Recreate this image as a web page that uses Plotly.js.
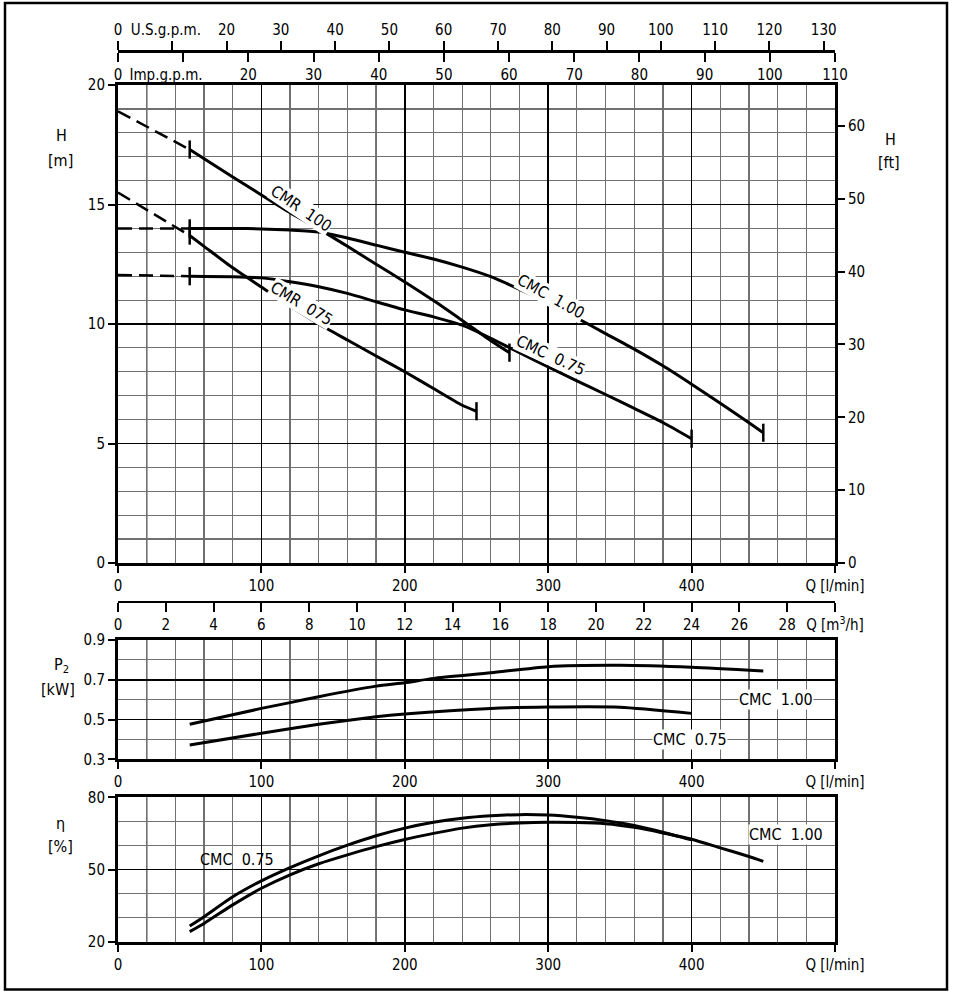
<!DOCTYPE html>
<html>
<head>
<meta charset="utf-8">
<script src="https://cdn.plot.ly/plotly-3.0.1.min.js"></script>
<style>
  html, body { margin: 0; padding: 0; background: #fff; }
  #chart { width: 958px; height: 1000px; }
</style>
</head>
<body>
<div id="chart"></div>
<script>
/** @type {typeof import("plotly.js-dist-min")} */
const Plotly = window.Plotly;

const FONT = "'Liberation Sans Narrow', 'DejaVu Sans Condensed', 'Liberation Sans', sans-serif";

// Q-H curves [l/min, m]; first point is the shut-off head, drawn dashed up to 50 l/min
const cmr100Q = [0, 50, 80, 100, 120, 140, 160, 180, 200, 220, 240, 260, 273];
const cmr100H = [18.9, 17.3, 16.15, 15.4, 14.66, 13.98, 13.25, 12.5, 11.76, 10.98, 10.15, 9.3, 8.8];
const cmr075Q = [0, 50, 60, 80, 100, 120, 140, 160, 180, 200, 220, 240, 250];
const cmr075H = [15.5, 13.7, 13.25, 12.35, 11.55, 10.75, 10.0, 9.33, 8.66, 8.0, 7.3, 6.6, 6.35];
const cmc100Q = [0, 50, 80, 100, 120, 140, 160, 180, 200, 220, 240, 260, 280, 300, 320, 340, 360, 380, 400, 420, 440, 450];
const cmc100H = [14.0, 14.0, 14.0, 13.98, 13.93, 13.85, 13.6, 13.3, 13.0, 12.72, 12.38, 11.98, 11.45, 10.88, 10.25, 9.6, 8.95, 8.25, 7.48, 6.68, 5.87, 5.45];
const cmc075Q = [0, 50, 80, 100, 120, 140, 160, 180, 200, 220, 240, 260, 280, 300, 320, 340, 360, 380, 400];
const cmc075H = [12.05, 12.0, 11.98, 11.93, 11.77, 11.56, 11.28, 10.93, 10.59, 10.3, 9.95, 9.4, 8.8, 8.2, 7.62, 7.05, 6.47, 5.88, 5.2];

// shaft power P2 [kW]
const p2Q100 = [50, 100, 120, 140, 180, 200, 220, 260, 300, 350, 400, 450];
const p2Kw100 = [0.476, 0.556, 0.585, 0.615, 0.668, 0.685, 0.707, 0.735, 0.766, 0.773, 0.763, 0.744];
const p2Q075 = [50, 100, 140, 180, 200, 260, 300, 350, 400];
const p2Kw075 = [0.372, 0.431, 0.476, 0.514, 0.528, 0.556, 0.563, 0.562, 0.531];

// efficiency [%]
const etaQ075 = [50, 60, 80, 100, 120, 140, 160, 180, 200, 220, 240, 260, 280, 300, 320, 340, 360, 380, 400];
const eta075 = [26.5, 30.4, 38.7, 45.3, 50.8, 55.7, 60.1, 64.0, 67.2, 69.6, 71.3, 72.3, 72.8, 72.6, 71.7, 70.3, 68.3, 65.5, 62.3];
const etaQ100 = [50, 60, 80, 100, 120, 140, 160, 180, 200, 220, 240, 260, 280, 300, 320, 340, 360, 380, 400, 420, 440, 450];
const eta100 = [24.2, 27.6, 35.3, 42.2, 47.8, 52.4, 56.1, 59.5, 62.5, 65.0, 67.2, 68.6, 69.3, 69.6, 69.5, 69.0, 67.5, 65.2, 62.6, 59.0, 55.4, 53.4];

// axes
const qMax = 500;
const USGPM = 0.264172, M3H = 0.06, FT = 3.28084;
const qTicks = [0, 100, 200, 300, 400, 500];
const qTickText = ["0", "100", "200", "300", "400", "Q [l/min]"];
const usTicks = [0, 10, 20, 30, 40, 50, 60, 70, 80, 90, 100, 110, 120, 130];
const usTickText = ["0", "U.S.g.p.m.\u00a0\u00a0\u00a0", "20", "30", "40", "50", "60", "70", "80", "90", "100", "110", "120", "130"];
const impTicks = [0, 10, 20, 30, 40, 50, 60, 70, 80, 90, 100, 110];
const impTickText = ["0", "Imp.g.p.m.\u00a0\u00a0\u00a0\u00a0\u00a0\u00a0\u00a0\u00a0", "20", "30", "40", "50", "60", "70", "80", "90", "100", "110"];
const m3hTicks = [0, 2, 4, 6, 8, 10, 12, 14, 16, 18, 20, 22, 24, 26, 28, 30];
const m3hTickText = ["0", "2", "4", "6", "8", "10", "12", "14", "16", "18", "20", "22", "24", "26", "28", "Q [m<sup>3</sup>/h]"];
const hTicks = [0, 5, 10, 15, 20];
const ftTicks = [0, 10, 20, 30, 40, 50, 60];
const p2Ticks = [0.3, 0.5, 0.7, 0.9];
const etaTicks = [20, 50, 80];
const darkGridQ = [20, 180];

const xDom = [118 / 958, 835 / 958];
const tickFont = { family: FONT, size: 15, color: "#000" };
const curve = { color: "#000", width: 3 };
const endMark = { symbol: "line-ns", size: 13, line: { color: "#000", width: 2.5 } };

function qAxis(anchor) {
    return {
        domain: xDom, range: [0, qMax], anchor: anchor,
        tickmode: "array", tickvals: qTicks, ticktext: qTickText,
        ticks: "outside", ticklen: 7, tickwidth: 2, tickcolor: "#000",
        showline: true, linewidth: 3, linecolor: "#000", mirror: true,
        showgrid: true, gridcolor: "#000", gridwidth: 1.5,
        minor: { tickmode: "linear", tick0: 0, dtick: 20, showgrid: true, gridcolor: "#707070", gridwidth: 1.2 },
        zeroline: false, tickfont: tickFont, fixedrange: true
    };
}

function valAxis(anchor, dom, range, ticks, step) {
    return {
        domain: dom, range: range, anchor: anchor,
        tickmode: "array", tickvals: ticks,
        ticks: "outside", ticklen: 7, tickwidth: 2, tickcolor: "#000",
        showline: true, linewidth: 3, linecolor: "#000", mirror: true,
        showgrid: true, gridcolor: "#000", gridwidth: 1.5,
        minor: { tickmode: "linear", tick0: range[0], dtick: step, showgrid: true, gridcolor: "#707070", gridwidth: 1.2 },
        zeroline: false, tickfont: tickFont, fixedrange: true
    };
}

function freeAxis(range, vals, text, pos, side) {
    return {
        overlaying: "x", anchor: "free", position: pos, side: side,
        range: range, tickmode: "array", tickvals: vals, ticktext: text,
        ticks: "outside", ticklen: 9, tickwidth: 2, tickcolor: "#000",
        showline: true, linewidth: 2.5, linecolor: "#000",
        showgrid: false, zeroline: false, tickfont: tickFont, fixedrange: true
    };
}

function headTraces(q, h) {
    const n = q.length;
    return [
        { x: q.slice(0, 2), y: h.slice(0, 2), mode: "lines", line: { color: "#000", width: 2.5, dash: "14px,7px" }, xaxis: "x", yaxis: "y" },
        { x: q.slice(1), y: h.slice(1), mode: "lines", line: { ...curve, shape: "spline", smoothing: 0.6 }, xaxis: "x", yaxis: "y" },
        { x: [q[1], q[n - 1]], y: [h[1], h[n - 1]], mode: "markers", marker: endMark, xaxis: "x", yaxis: "y" }
    ];
}

// empty holders so that the extra unit scales get drawn
function holder(xa, ya) {
    return { x: [0], y: [0], mode: "markers", marker: { opacity: 0, size: 1 }, xaxis: xa, yaxis: ya };
}

const traces = [
    ...headTraces(cmr100Q, cmr100H),
    ...headTraces(cmr075Q, cmr075H),
    ...headTraces(cmc100Q, cmc100H),
    ...headTraces(cmc075Q, cmc075H),
    { x: p2Q100, y: p2Kw100, mode: "lines", line: { ...curve, shape: "spline", smoothing: 0.6 }, xaxis: "x2", yaxis: "y2" },
    { x: p2Q075, y: p2Kw075, mode: "lines", line: { ...curve, shape: "spline", smoothing: 0.6 }, xaxis: "x2", yaxis: "y2" },
    { x: etaQ075, y: eta075, mode: "lines", line: { ...curve, shape: "spline", smoothing: 0.6 }, xaxis: "x3", yaxis: "y3" },
    { x: etaQ100, y: eta100, mode: "lines", line: { ...curve, shape: "spline", smoothing: 0.6 }, xaxis: "x3", yaxis: "y3" },
    holder("x4", "y"), holder("x5", "y"), holder("x6", "y"), holder("x", "y4")
];
traces.forEach(t => { t.hoverinfo = "skip"; t.showlegend = false; });

// dark grid lines at 20 and 180 l/min in every panel
const shapes = [];
["y", "y2", "y3"].forEach((ya, i) => {
    const xa = i === 0 ? "x" : "x" + (i + 1);
    darkGridQ.forEach(q => shapes.push({
        type: "line", xref: xa, yref: ya + " domain", x0: q, x1: q, y0: 0, y1: 1,
        line: { color: "#000", width: 1.3 }, layer: "below"
    }));
});
// outer frame
shapes.push({ type: "rect", xref: "paper", yref: "paper", x0: 5 / 958, x1: 947 / 958, y0: 1 - 989.5 / 1000, y1: 1 - 3 / 1000, line: { color: "#000", width: 2.5 } });

function label(text, x, y, ref, angle, bg) {
    const a = {
        text: text, x: x, y: y, showarrow: false, xanchor: "center", yanchor: "middle",
        font: { family: FONT, size: 16, color: "#000" }, textangle: angle || 0
    };
    if (ref === "paper") { a.xref = "paper"; a.yref = "paper"; }
    else { a.xref = ref[0]; a.yref = ref[1]; }
    if (bg) { a.bgcolor = "#fff"; a.borderpad = 0; }
    return a;
}

const annotations = [
    label("CMR  100", 128, 14.85, ["x", "y"], 34, true),
    label("CMR  075", 128, 10.85, ["x", "y"], 31, true),
    label("CMC  1.00", 302, 11.15, ["x", "y"], 29, true),
    label("CMC  0.75", 302, 8.7, ["x", "y"], 25, true),
    label("CMC  1.00", 459, 0.6, ["x2", "y2"], 0, true),
    label("CMC  0.75", 399, 0.4, ["x2", "y2"], 0, true),
    label("CMC  0.75", 83, 54, ["x3", "y3"], 0, false),
    label("CMC  1.00", 466, 64.5, ["x3", "y3"], 0, true),
    label("H", 61 / 958, 1 - 135 / 1000, "paper"),
    label("[m]", 60 / 958, 1 - 160 / 1000, "paper"),
    label("H", 890 / 958, 1 - 139 / 1000, "paper"),
    label("[ft]", 889 / 958, 1 - 162 / 1000, "paper"),
    label("P<sub>2</sub>", 62 / 958, 1 - 665 / 1000, "paper"),
    label("[kW]", 58 / 958, 1 - 689 / 1000, "paper"),
    label("η", 60 / 958, 1 - 823 / 1000, "paper"),
    label("[%]", 60 / 958, 1 - 846 / 1000, "paper")
];

const layout = {
    width: 958, height: 1000,
    margin: { l: 0, r: 0, t: 0, b: 0 },
    paper_bgcolor: "#fff", plot_bgcolor: "#fff",
    font: { family: FONT, color: "#000" },
    showlegend: false,
    xaxis: qAxis("y"),
    yaxis: valAxis("x", [1 - 563 / 1000, 1 - 85 / 1000], [0, 20], hTicks, 1),
    xaxis2: qAxis("y2"),
    yaxis2: valAxis("x2", [1 - 759.3 / 1000, 1 - 640 / 1000], [0.3, 0.9], p2Ticks, 0.1),
    xaxis3: qAxis("y3"),
    yaxis3: valAxis("x3", [1 - 941.7 / 1000, 1 - 797.3 / 1000], [20, 80], etaTicks, 10),
    // secondary unit scales
    xaxis4: freeAxis([0, qMax * USGPM], usTicks, usTickText, 1 - 51 / 1000, "top"),
    xaxis5: freeAxis([0, 110], impTicks, impTickText, 1 - 51 / 1000, "bottom"),
    xaxis6: freeAxis([0, qMax * M3H], m3hTicks, m3hTickText, 1 - 601.7 / 1000, "bottom"),
    yaxis4: {
        overlaying: "y", side: "right", anchor: "x", range: [0, 20 * FT],
        tickmode: "array", tickvals: ftTicks,
        ticks: "outside", ticklen: 7, tickwidth: 2, tickcolor: "#000",
        showline: true, linewidth: 3, linecolor: "#000",
        showgrid: false, zeroline: false, tickfont: tickFont, fixedrange: true
    },
    shapes: shapes,
    annotations: annotations
};

Plotly.newPlot("chart", traces, layout, { staticPlot: true });
</script>
</body>
</html>
